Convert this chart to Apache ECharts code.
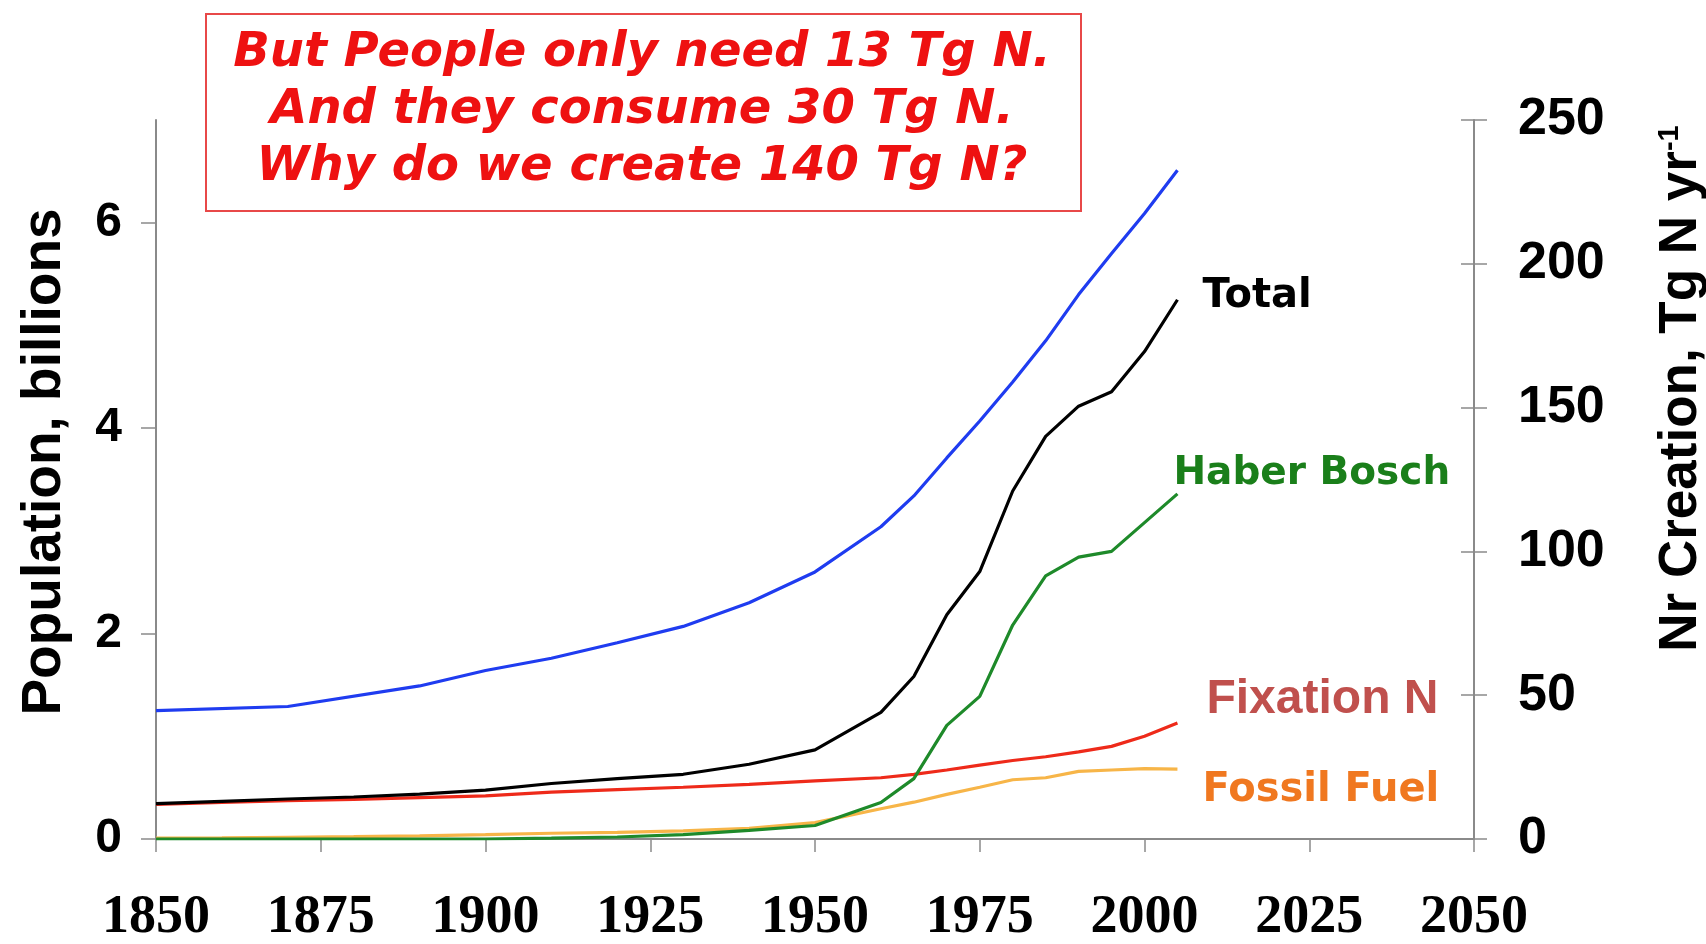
<!DOCTYPE html>
<html>
<head>
<meta charset="utf-8">
<title>Population and Nr creation</title>
<script src="https://cdn.jsdelivr.net/npm/echarts@6/dist/echarts.min.js"></script>
<style>
  html, body { margin: 0; padding: 0; background: #fff; }
  #main { width: 1706px; height: 944px; }
</style>
</head>
<body>
<div id="main"></div>
<script>
// world population, billions (left axis)
const popYears = [1850, 1870, 1890, 1900, 1910, 1920, 1930, 1940, 1950, 1960, 1965, 1970, 1975, 1980, 1985, 1990, 1995, 2000, 2005];
const popValues = [1.25, 1.29, 1.49, 1.64, 1.76, 1.91, 2.07, 2.3, 2.6, 3.04, 3.34, 3.71, 4.07, 4.45, 4.85, 5.3, 5.7, 6.09, 6.51];

// Nr creation, Tg N per year (right axis)
const nYears = [1850, 1860, 1870, 1880, 1890, 1900, 1910, 1920, 1930, 1940, 1950, 1960, 1965, 1970, 1975, 1980, 1985, 1990, 1995, 2000, 2005];
const totalN = [12.3, 13.1, 13.9, 14.6, 15.6, 17, 19.3, 21, 22.5, 26, 31, 44, 56.5, 78, 93, 121, 140, 150.5, 155.5, 169.5, 187.5];
const haberN = [0, 0, 0, 0, 0, 0, 0.3, 0.7, 1.5, 3, 4.7, 12.7, 21, 39.5, 49.6, 74.4, 91.5, 98, 100, 110, 120];
const fixationN = [12, 12.7, 13.3, 13.8, 14.4, 15, 16.3, 17.2, 18, 19, 20.2, 21.3, 22.5, 24, 25.7, 27.3, 28.6, 30.3, 32.2, 35.7, 40.3];
const fossilN = [0.3, 0.4, 0.6, 0.8, 1.1, 1.5, 2, 2.3, 2.8, 3.7, 5.7, 10.5, 12.8, 15.5, 18, 20.6, 21.3, 23.5, 24, 24.5, 24.3];

const yearTicks = [1850, 1875, 1900, 1925, 1950, 1975, 2000, 2025, 2050];
const popTicks = [0, 2, 4, 6];

const noteLines = [
  "But People only need 13 Tg N.",
  "And they consume 30 Tg N.",
  "Why do we create 140 Tg N?"
];

const pairs = (xs, ys) => xs.map((x, i) => [x, ys[i]]);

const axisGray = "#8a8a8a";

const chart = echarts.init(document.getElementById("main"));

// line series helper with a label at the end of the line
function nLine(name, data, color, labelColor, font, size, dx, dy) {
  return {
    name: name,
    type: "line",
    yAxisIndex: 1,
    data: data,
    symbol: "none",
    lineStyle: { color: color, width: 3.2 },
    endLabel: {
      show: true,
      formatter: name,
      distance: 0,
      offset: [dx, dy],
      color: labelColor,
      fontFamily: font,
      fontWeight: "bold",
      fontSize: size,
    },
  };
}

chart.setOption({
  animation: false,
  backgroundColor: "#fff",
  grid: {
    left: 156,
    right: 232,
    top: 120,
    bottom: 105,
    outerBoundsMode: "none",
  },
  xAxis: {
    type: "value",
    min: 1850,
    max: 2050,
    interval: 25,
    splitLine: { show: false },
    axisLine: { lineStyle: { color: axisGray, width: 2 } },
    axisTick: { length: 13, lineStyle: { color: axisGray, width: 1.5 } },
    axisLabel: {
      margin: 52,
      customValues: yearTicks,
      formatter: (v) => String(v),
      fontFamily: "Liberation Serif",
      fontWeight: "bold",
      fontSize: 54,
      color: "#000",
    },
  },
  yAxis: [
    {
      type: "value",
      position: "left",
      min: 0,
      max: 7,
      interval: 2,
      name: "Population, billions",
      nameLocation: "middle",
      nameGap: 84,
      nameTextStyle: {
        fontFamily: "Liberation Sans",
        fontWeight: "bold",
        fontSize: 55,
        color: "#000",
        padding: [0, 0, 0, 35],
      },
      splitLine: { show: false },
      axisLine: { show: true, lineStyle: { color: axisGray, width: 2 } },
      axisTick: { customValues: popTicks, length: 15, lineStyle: { color: axisGray, width: 1.5 } },
      axisLabel: {
        customValues: popTicks,
        margin: 34,
        fontFamily: "Liberation Sans",
        fontWeight: "bold",
        fontSize: 48,
        color: "#000",
      },
    },
    {
      type: "value",
      position: "right",
      min: 0,
      max: 250,
      interval: 50,
      name: "Nr Creation, Tg N yr{sup|-1}",
      nameLocation: "middle",
      nameGap: 181,
      nameTextStyle: {
        fontFamily: "Liberation Sans",
        fontWeight: "bold",
        fontSize: 53,
        color: "#000",
        padding: [0, 0, 0, 182],
        rich: {
          sup: {
            fontFamily: "Liberation Sans",
            fontWeight: "bold",
            fontSize: 29,
            color: "#000",
            verticalAlign: "top",
          },
        },
      },
      splitLine: { show: false },
      axisLine: { show: true, lineStyle: { color: axisGray, width: 2 } },
      axisTick: { length: 13, lineStyle: { color: axisGray, width: 1.5 } },
      axisLabel: {
        margin: 44,
        fontFamily: "Liberation Sans",
        fontWeight: "bold",
        fontSize: 52,
        color: "#000",
      },
    },
    {
      // same scale again, only to draw the inner half of the right ticks
      type: "value",
      position: "right",
      min: 0,
      max: 250,
      interval: 50,
      splitLine: { show: false },
      axisLine: { show: false },
      axisTick: { inside: true, length: 13, lineStyle: { color: axisGray, width: 1.5 } },
      axisLabel: { show: false },
    },
  ],
  graphic: [
    {
      type: "rect",
      left: 205,
      top: 13,
      shape: { width: 875, height: 197 },
      style: { fill: "#fff", stroke: "#e84848", lineWidth: 2 },
      z: 10,
    },
    {
      type: "text",
      x: 642,
      y: 111,
      style: {
        text: noteLines.join("\n"),
        font: 'italic bold 48px "DejaVu Sans"',
        fill: "#ee1111",
        align: "center",
        verticalAlign: "middle",
        lineHeight: 57,
      },
      z: 11,
    },
  ],
  series: [
    {
      name: "Population",
      type: "line",
      yAxisIndex: 0,
      data: pairs(popYears, popValues),
      symbol: "none",
      lineStyle: { color: "#1f3cf0", width: 3.2 },
    },
    nLine("Fossil Fuel", pairs(nYears, fossilN), "#f7b548", "#f07820", "DejaVu Sans", 40, 25, 21),
    nLine("Fixation N", pairs(nYears, fixationN), "#ee2a1a", "#c0504d", "Liberation Sans", 48, 29, -23),
    nLine("Haber Bosch", pairs(nYears, haberN), "#1e8a2a", "#1a7f1a", "DejaVu Sans", 39, -4, -20),
    nLine("Total", pairs(nYears, totalN), "#000000", "#000000", "DejaVu Sans", 40, 25, -3),
  ],
});
</script>
</body>
</html>
